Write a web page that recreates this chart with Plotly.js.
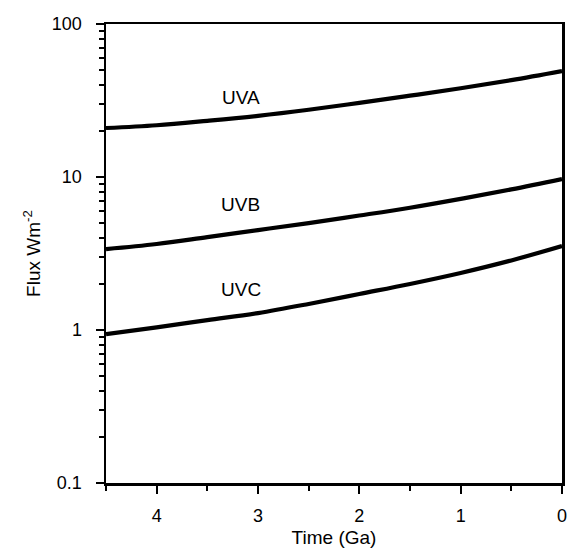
<!DOCTYPE html>
<html>
<head>
<meta charset="utf-8">
<script src="https://cdn.plot.ly/plotly-3.0.1.min.js"></script>
<style>html,body{margin:0;padding:0;background:#fff;}#chart{width:567px;height:556px;}</style>
</head>
<body>
<div id="chart"></div>
<script>
// Time before present (Ga)
var time = [4.5, 4, 3.5, 3, 2.5, 2, 1.5, 1, 0.5, 0];
// Flux (W m^-2)
var uva = [20.9, 21.8, 23.3, 25.1, 27.5, 30.5, 34.0, 38.0, 43.0, 49.3];
var uvb = [3.38, 3.65, 4.05, 4.5, 5.0, 5.6, 6.3, 7.2, 8.3, 9.7];
var uvc = [0.94, 1.04, 1.16, 1.29, 1.48, 1.72, 2.0, 2.36, 2.85, 3.54];
var seriesNames = ['UVA', 'UVB', 'UVC'];
var labelX = [3.17, 3.17, 3.17];
var labelY = [33.3, 6.66, 1.85];
var yTickVals = [0.1, 1, 10, 100];
var yTickText = ['0.1', '1', '10', '100'];
var xTickVals = [0, 1, 2, 3, 4];
var xTickText = ['0', '1', '2', '3', '4'];

var font = 'Liberation Sans, Arial, Helvetica, sans-serif';
var seriesData = [uva, uvb, uvc];
var traces = seriesData.map(function (ys, i) {
  return {
    x: time, y: ys, type: 'scatter', mode: 'lines', name: seriesNames[i],
    line: {color: '#000', width: 4.2, shape: 'spline', smoothing: 1},
    hoverinfo: 'x+y'
  };
});

var annotations = seriesNames.map(function (n, i) {
  return {
    x: labelX[i], y: Math.log10(labelY[i]), xref: 'x', yref: 'y',
    text: n, showarrow: false, font: {family: font, size: 19, color: '#000'}
  };
});

var layout = {
  width: 567, height: 556,
  margin: {l: 106, r: 5, t: 24, b: 73},
  paper_bgcolor: '#fff', plot_bgcolor: '#fff',
  showlegend: false,
  font: {family: font, size: 18, color: '#000'},
  xaxis: {
    range: [4.5, 0], showgrid: false, zeroline: false,
    showline: true, linecolor: '#000', linewidth: 2.5, mirror: true,
    ticks: 'outside', ticklen: 8, tickwidth: 2, tickcolor: '#000',
    tickvals: xTickVals, ticktext: xTickText,
    tickfont: {family: font, size: 18},
    ticklabelstandoff: 7,
    ticklabeloverflow: 'allow',
    minor: {dtick: 0.5, ticks: 'outside', ticklen: 5, tickwidth: 2, tickcolor: '#000'},
    title: {text: 'Time (Ga)', font: {family: font, size: 19}, standoff: 6}
  },
  yaxis: {
    type: 'log', range: [-1, 2], showgrid: false, zeroline: false,
    showline: true, linecolor: '#000', linewidth: 2.5, mirror: true,
    ticks: 'outside', ticklen: 8, tickwidth: 2, tickcolor: '#000',
    tickvals: yTickVals, ticktext: yTickText,
    tickfont: {family: font, size: 18},
    ticklabelstandoff: 10,
    ticklabeloverflow: 'allow',
    minor: {dtick: 'D1', ticks: 'outside', ticklen: 5, tickwidth: 2, tickcolor: '#000'},
    title: {text: 'Flux Wm<sup>-2</sup>', font: {family: font, size: 19}, standoff: 6}
  },
  annotations: annotations
};

Plotly.newPlot('chart', traces, layout, {displayModeBar: false, staticPlot: true});
</script>
</body>
</html>
